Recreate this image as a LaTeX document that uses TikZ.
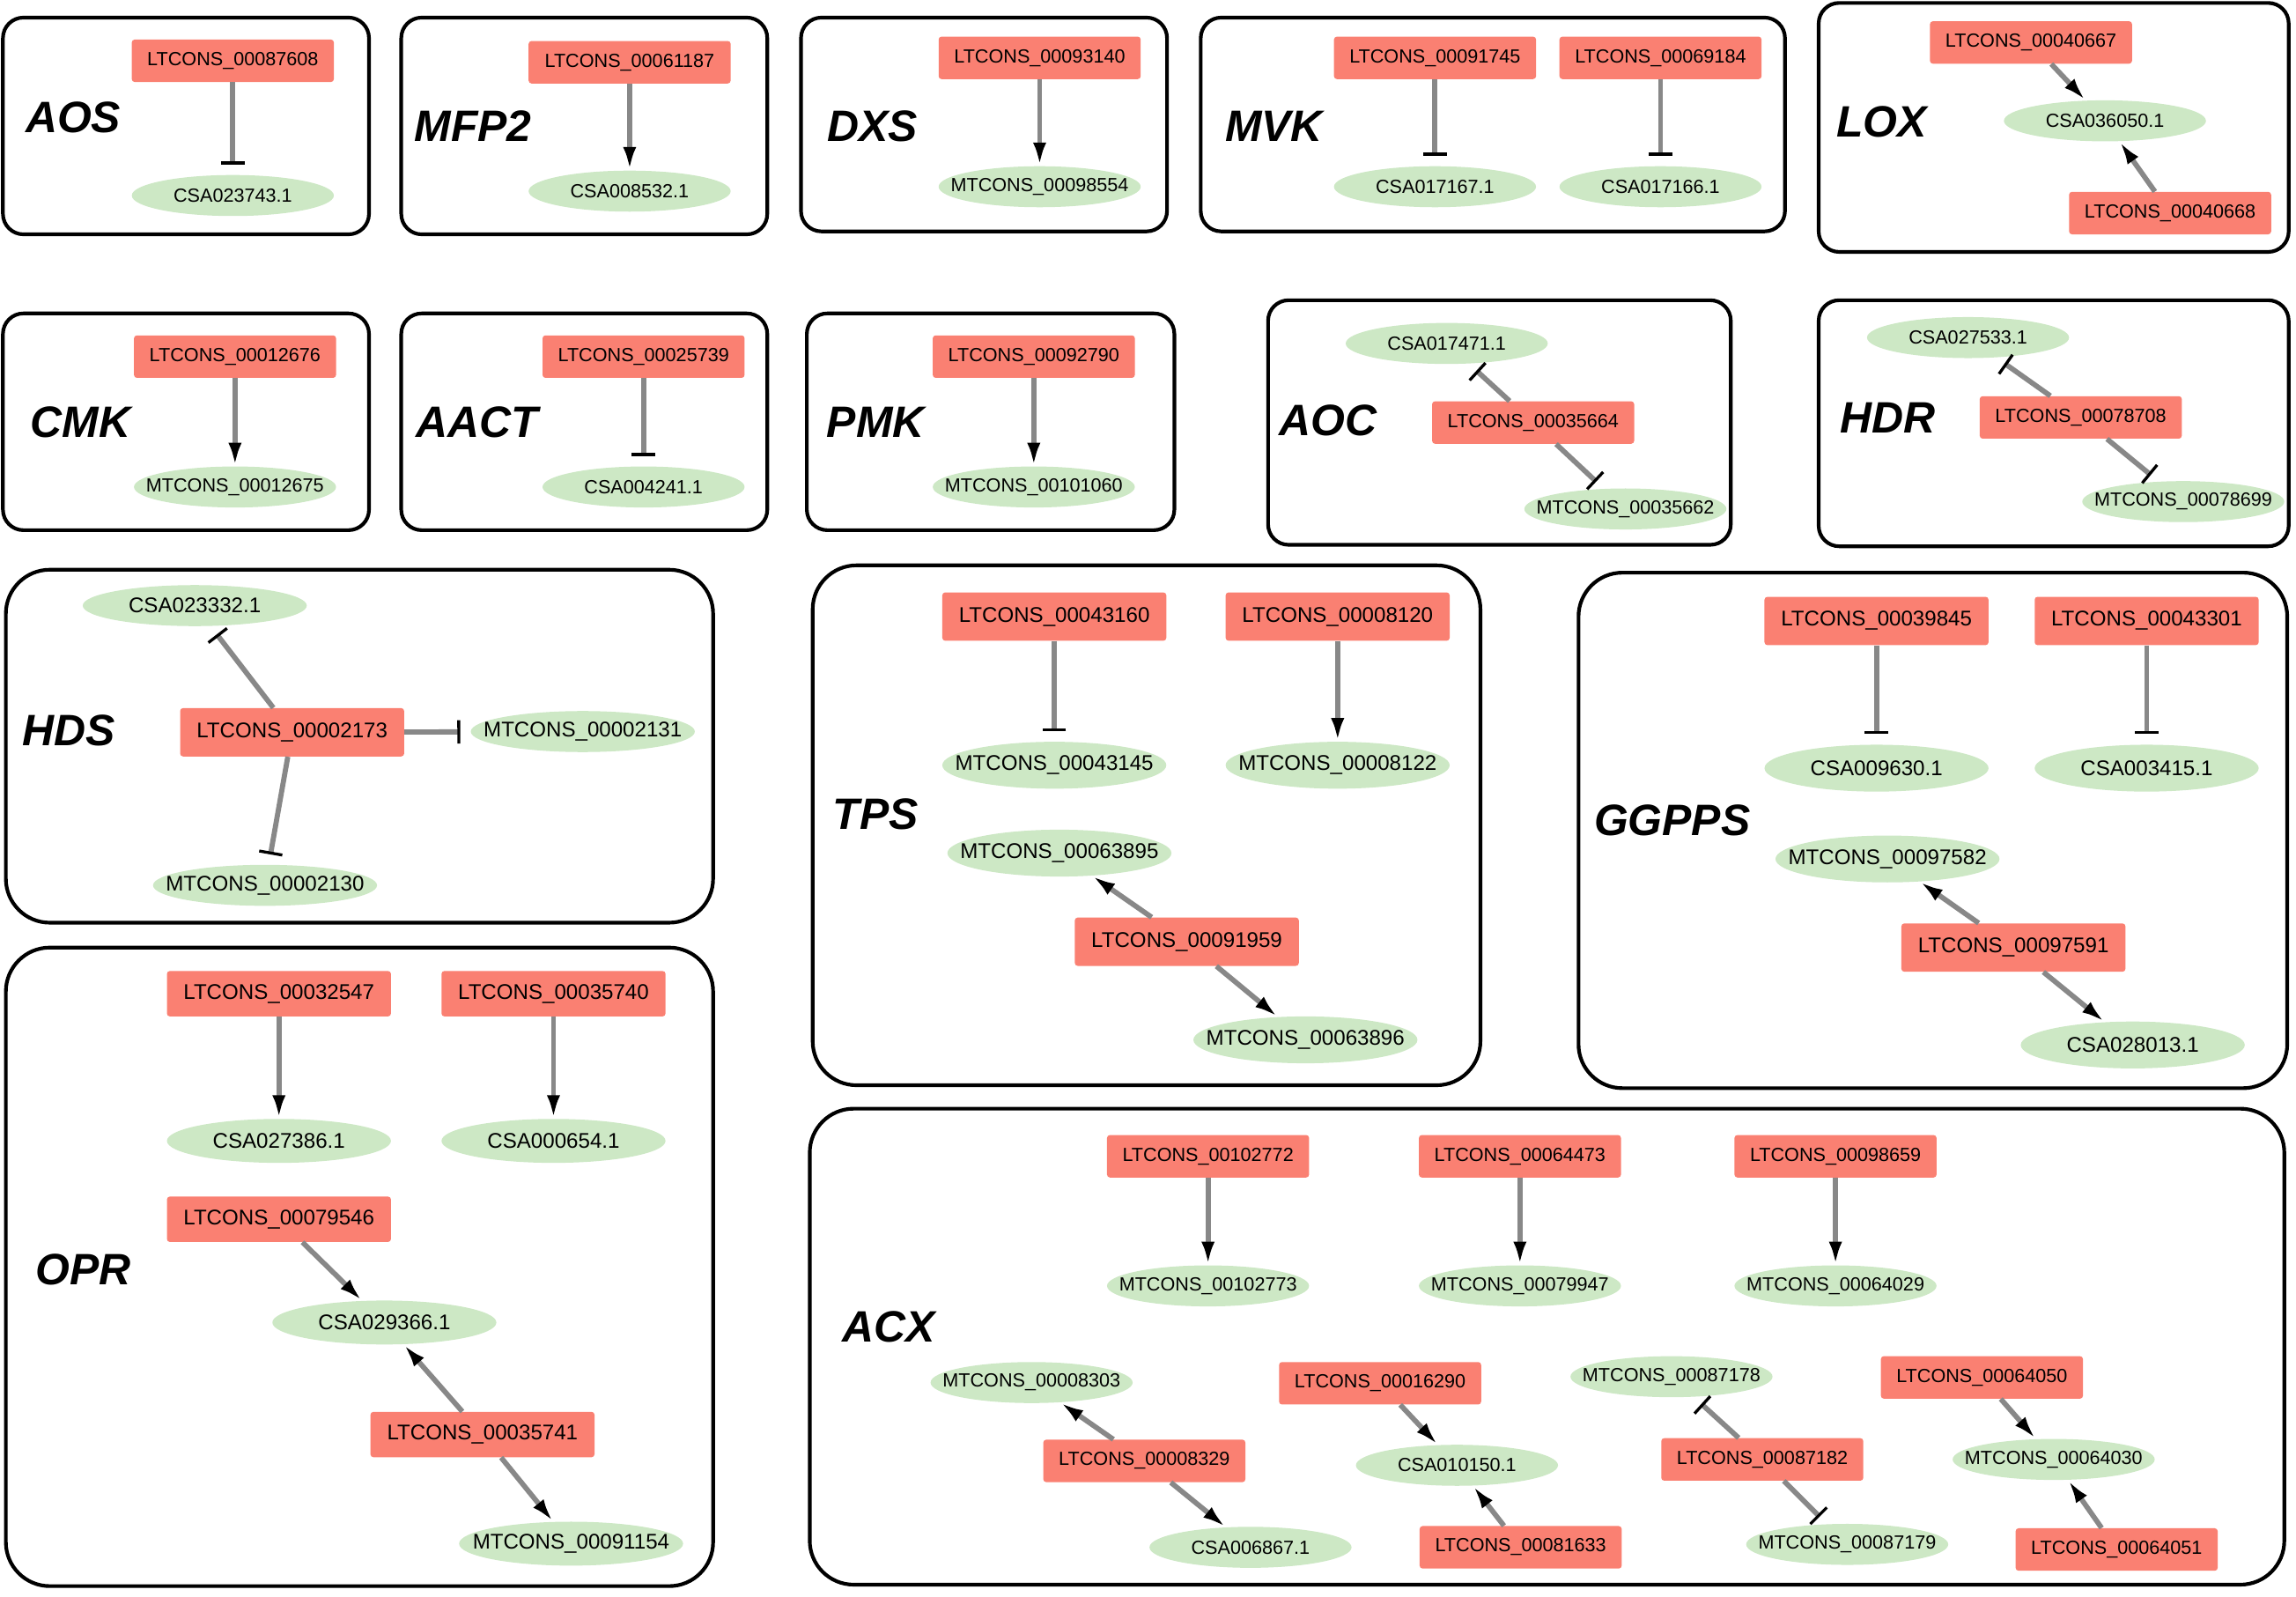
\documentclass[tikz,border=0pt]{standalone}
\usepackage{fontspec}
\setmainfont{Liberation Sans}
\usetikzlibrary{arrows.meta,shapes.geometric}

\definecolor{lncred}{RGB}{250,128,114}
\definecolor{mrnagreen}{RGB}{205,232,197}
\definecolor{edgegray}{RGB}{136,136,136}

\begin{document}
\begin{tikzpicture}[x=1pt, y=-1pt,
	lnc/.style={rectangle, fill=lncred, rounded corners=2pt, inner sep=0pt,
		minimum width=138pt, minimum height=29pt, font=\fontsize{13}{15}\selectfont},
	lncbig/.style={minimum width=153pt, minimum height=33pt, font=\fontsize{14.5}{17}\selectfont},
	mrna/.style={ellipse, fill=mrnagreen, inner sep=0pt,
		minimum width=138pt, minimum height=28pt, font=\fontsize{13}{15}\selectfont},
	mrnabig/.style={minimum width=153pt, minimum height=32pt, font=\fontsize{14.5}{17}\selectfont},
	grouplabel/.style={font=\fontsize{30}{36}\selectfont\bfseries\itshape},
	groupbox/.style={line width=2.5pt, rounded corners=14pt},
	bigbox/.style={rounded corners=30pt},
	act/.style={edgegray, line width=3.5pt, -{Latex[black, length=16pt, width=9pt]}},
	inh/.style={edgegray, line width=3.5pt, -{Bar[black, width=16pt, line width=2pt]}, shorten >=7pt},
]
	\useasboundingbox (0, 0) rectangle (1568, 1090);

	% \drawgroup#x1#y1#x2#y2#name#labelx#labely#format
	\def\drawgroup#1#2#3#4#5#6#7#8{
		\draw[groupbox, #8] (#1, #2) rectangle (#3, #4);
		\node[grouplabel] (#5) at (#6, #7) {#5};
	}

	% \drawlnc#name#x#y#text#format
	\def\drawlnc#1#2#3#4#5{
		\node[lnc, #5] (#1) at (#2, #3) {#4};
	}

	% \drawmrna#name#x#y#text#format
	\def\drawmrna#1#2#3#4#5{
		\node[mrna, #5] (#1) at (#2, #3) {\makebox[0pt]{#4}};
	}

	% first row
	\drawgroup{2}{12}{252}{160}{AOS}{50}{80}{}
	\drawlnc{l87608}{159}{41.5}{LTCONS\_00087608}{}
	\drawmrna{c023743}{159}{133.5}{CSA023743.1}{}
	\draw[inh] (l87608) -- (c023743);

	\drawgroup{274}{12}{524}{160}{MFP2}{323}{86}{}
	\drawlnc{l61187}{430}{42.5}{LTCONS\_00061187}{}
	\drawmrna{c008532}{430}{130.5}{CSA008532.1}{}
	\draw[act] (l61187) -- (c008532);

	\drawgroup{547}{12}{797}{158}{DXS}{596}{86}{}
	\drawlnc{l93140}{710}{39.5}{LTCONS\_00093140}{}
	\drawmrna{m98554}{710}{127.5}{MTCONS\_00098554}{}
	\draw[act] (l93140) -- (m98554);

	\drawgroup{820}{12}{1219}{158}{MVK}{870}{86}{}
	\drawlnc{l91745}{980}{39.5}{LTCONS\_00091745}{}
	\drawlnc{l69184}{1134}{39.5}{LTCONS\_00069184}{}
	\drawmrna{c017167}{980}{127.5}{CSA017167.1}{}
	\drawmrna{c017166}{1134}{127.5}{CSA017166.1}{}
	\draw[inh] (l91745) -- (c017167);
	\draw[inh] (l69184) -- (c017166);

	\drawgroup{1242}{2}{1563}{172}{LOX}{1285}{83}{}
	\drawlnc{l40667}{1387}{29}{LTCONS\_00040667}{}
	\drawmrna{c036050}{1437.5}{82.5}{CSA036050.1}{}
	\drawlnc{l40668}{1482}{145.5}{LTCONS\_00040668}{}
	\draw[act] (l40667) -- (c036050);
	\draw[act] (l40668) -- (c036050);

	% second row
	\drawgroup{2}{214}{252}{362}{CMK}{55}{288}{}
	\drawlnc{l12676}{160.5}{243.5}{LTCONS\_00012676}{}
	\drawmrna{m12675}{160.5}{332.5}{MTCONS\_00012675}{}
	\draw[act] (l12676) -- (m12675);

	\drawgroup{274}{214}{524}{362}{AACT}{326}{288}{}
	\drawlnc{l25739}{439.5}{243.5}{LTCONS\_00025739}{}
	\drawmrna{c004241}{439.5}{332.5}{CSA004241.1}{}
	\draw[inh] (l25739) -- (c004241);

	\drawgroup{551}{214}{802}{362}{PMK}{598}{288}{}
	\drawlnc{l92790}{706}{243.5}{LTCONS\_00092790}{}
	\drawmrna{m101060}{706}{332.5}{MTCONS\_00101060}{}
	\draw[act] (l92790) -- (m101060);

	\drawgroup{866}{205}{1182}{372}{AOC}{907}{287}{}
	\drawmrna{c017471}{988}{234.5}{CSA017471.1}{}
	\drawlnc{l35664}{1047}{288.5}{LTCONS\_00035664}{}
	\drawmrna{m35662}{1110}{347.5}{MTCONS\_00035662}{}
	\draw[inh] (l35664) -- (c017471);
	\draw[inh] (l35664) -- (m35662);

	\drawgroup{1242}{205}{1563}{373}{HDR}{1289}{285}{}
	\drawmrna{c027533}{1344}{230.5}{CSA027533.1}{}
	\drawlnc{l78708}{1421}{285}{LTCONS\_00078708}{}
	\drawmrna{m78699}{1491}{342.5}{MTCONS\_00078699}{}
	\draw[inh] (l78708) -- (c027533);
	\draw[inh] (l78708) -- (m78699);

	% big groups
	\drawgroup{4}{389}{487}{630}{HDS}{47}{499}{bigbox}
	\drawmrna{c023332}{133}{413.5}{CSA023332.1}{mrnabig, minimum height=28pt}
	\drawlnc{l02173}{199.5}{500}{LTCONS\_00002173}{lncbig}
	\drawmrna{m02131}{398}{499.5}{MTCONS\_00002131}{mrnabig, minimum height=28pt}
	\drawmrna{m02130}{181}{604.5}{MTCONS\_00002130}{mrnabig, minimum height=28pt}
	\draw[inh] (l02173) -- (c023332);
	\draw[inh] (l02173) -- (m02131);
	\draw[inh] (l02173) -- (m02130);

	\drawgroup{555}{386}{1011}{741}{TPS}{598}{556}{bigbox}
	\drawlnc{l43160}{720}{421}{LTCONS\_00043160}{lncbig}
	\drawlnc{l08120}{913.5}{421}{LTCONS\_00008120}{lncbig}
	\drawmrna{m43145}{720}{522.5}{MTCONS\_00043145}{mrnabig}
	\drawmrna{m08122}{913.5}{522.5}{MTCONS\_00008122}{mrnabig}
	\drawmrna{m63895}{723.5}{582.5}{MTCONS\_00063895}{mrnabig}
	\drawlnc{l91959}{810.5}{643}{LTCONS\_00091959}{lncbig}
	\drawmrna{m63896}{891.5}{710}{MTCONS\_00063896}{mrnabig}
	\draw[inh] (l43160) -- (m43145);
	\draw[act] (l08120) -- (m08122);
	\draw[act] (l91959) -- (m63895);
	\draw[act] (l91959) -- (m63896);

	\drawgroup{1078}{391}{1562}{743}{GGPPS}{1142}{560}{bigbox}
	\drawlnc{l39845}{1281.5}{424}{LTCONS\_00039845}{lncbig}
	\drawlnc{l43301}{1466}{424}{LTCONS\_00043301}{lncbig}
	\drawmrna{c009630}{1281.5}{524.5}{CSA009630.1}{mrnabig}
	\drawmrna{c003415}{1466}{524.5}{CSA003415.1}{mrnabig}
	\drawmrna{m97582}{1289}{586.5}{MTCONS\_00097582}{mrnabig}
	\drawlnc{l97591}{1375}{647}{LTCONS\_00097591}{lncbig}
	\drawmrna{c028013}{1456.5}{713.5}{CSA028013.1}{mrnabig}
	\draw[inh] (l39845) -- (c009630);
	\draw[inh] (l43301) -- (c003415);
	\draw[act] (l97591) -- (m97582);
	\draw[act] (l97591) -- (c028013);

	\drawgroup{4}{647}{487}{1083}{OPR}{57}{867}{bigbox}
	\drawlnc{l32547}{190.5}{678.5}{LTCONS\_00032547}{lncbig, minimum height=31pt}
	\drawlnc{l35740}{378}{678.5}{LTCONS\_00035740}{lncbig, minimum height=31pt}
	\drawmrna{c027386}{190.5}{779}{CSA027386.1}{mrnabig, minimum height=30pt}
	\drawmrna{c000654}{378}{779}{CSA000654.1}{mrnabig, minimum height=30pt}
	\drawlnc{l79546}{190.5}{832.5}{LTCONS\_00079546}{lncbig, minimum height=31pt}
	\drawmrna{c029366}{262.5}{903}{CSA029366.1}{mrnabig, minimum height=30pt}
	\drawlnc{l35741}{329.5}{979.5}{LTCONS\_00035741}{lncbig, minimum height=31pt}
	\drawmrna{m91154}{390}{1054}{MTCONS\_00091154}{mrnabig, minimum height=30pt}
	\draw[act] (l32547) -- (c027386);
	\draw[act] (l35740) -- (c000654);
	\draw[act] (l79546) -- (c029366);
	\draw[act] (l35741) -- (c029366);
	\draw[act] (l35741) -- (m91154);

	\drawgroup{553}{757}{1560}{1082}{ACX}{607}{906}{bigbox}
	\drawlnc{l102772}{825}{789.5}{LTCONS\_00102772}{}
	\drawlnc{l64473}{1038}{789.5}{LTCONS\_00064473}{}
	\drawlnc{l98659}{1253.5}{789.5}{LTCONS\_00098659}{}
	\drawmrna{m102773}{825}{878}{MTCONS\_00102773}{}
	\drawmrna{m79947}{1038}{878}{MTCONS\_00079947}{}
	\drawmrna{m64029}{1253.5}{878}{MTCONS\_00064029}{}
	\draw[act] (l102772) -- (m102773);
	\draw[act] (l64473) -- (m79947);
	\draw[act] (l98659) -- (m64029);

	\drawmrna{m08303}{704.5}{944}{MTCONS\_00008303}{}
	\drawlnc{l08329}{781.5}{997.5}{LTCONS\_00008329}{}
	\drawmrna{c006867}{854}{1056.5}{CSA006867.1}{}
	\draw[act] (l08329) -- (m08303);
	\draw[act] (l08329) -- (c006867);

	\drawlnc{l16290}{942.5}{944.5}{LTCONS\_00016290}{}
	\drawmrna{c010150}{995}{1000.5}{CSA010150.1}{}
	\drawlnc{l81633}{1038.5}{1056.5}{LTCONS\_00081633}{}
	\draw[act] (l16290) -- (c010150);
	\draw[act] (l81633) -- (c010150);

	\drawmrna{m87178}{1141.5}{940}{MTCONS\_00087178}{}
	\drawlnc{l87182}{1203.5}{996.5}{LTCONS\_00087182}{}
	\drawmrna{m87179}{1261.5}{1054.5}{MTCONS\_00087179}{}
	\draw[inh] (l87182) -- (m87178);
	\draw[inh] (l87182) -- (m87179);

	\drawlnc{l64050}{1353.5}{940.5}{LTCONS\_00064050}{}
	\drawmrna{m64030}{1402.5}{996.5}{MTCONS\_00064030}{}
	\drawlnc{l64051}{1445.5}{1058}{LTCONS\_00064051}{}
	\draw[act] (l64050) -- (m64030);
	\draw[act] (l64051) -- (m64030);
\end{tikzpicture}
\end{document}
